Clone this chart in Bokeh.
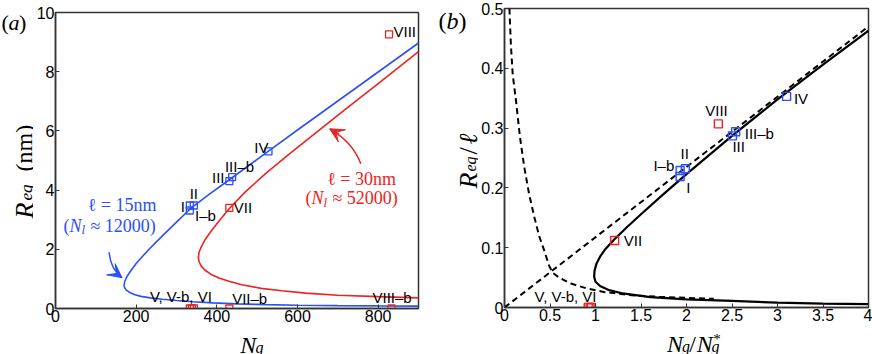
import numpy as np
from bokeh.plotting import figure
from bokeh.models import Range1d, FixedTicker, Label, Arrow, VeeHead
from bokeh.layouts import row, column
from bokeh.embed import file_html
from bokeh.resources import INLINE

BLUE = "#2b50f5"
RED = "#ee2222"
SERIF = "Liberation Serif"
SANS = "Liberation Sans"

# ---------------- panel (a) data ----------------
blue_ng = [900, 800, 700, 600, 520, 450, 390, 340, 300, 265, 235, 212, 195, 183, 175, 171, 170,
           172, 178, 188, 200, 215, 232, 250, 270, 300, 335, 380, 431, 480, 528, 600, 700, 800, 900]
blue_r = [0.08, 0.088, 0.098, 0.112, 0.13, 0.155, 0.19, 0.23, 0.27, 0.31, 0.36, 0.41, 0.47, 0.55, 0.63, 0.71, 0.79,
          0.93, 1.1, 1.3, 1.52, 1.75, 2.0, 2.25, 2.52, 2.92, 3.38, 3.85, 4.35, 4.84, 5.32, 6.03, 7.01, 7.99, 8.97]

red_ng = [900, 800, 700, 620, 561, 510, 462, 430, 405, 385, 370, 361, 356, 354,
          356, 362, 372, 386, 405, 431, 470, 520, 580, 650, 720, 800, 900]
red_r = [0.36, 0.40, 0.45, 0.52, 0.60, 0.68, 0.80, 0.92, 1.03, 1.16, 1.30, 1.44, 1.58, 1.72,
         1.9, 2.1, 2.35, 2.62, 2.95, 3.38, 3.93, 4.55, 5.22, 5.98, 6.74, 7.6, 8.68]

a_blue_ng = [333, 333, 343, 431, 438, 528]
a_blue_r = [3.31, 3.48, 3.48, 4.30, 4.44, 5.31]
a_red_ng = [431, 827, 333, 338, 343, 431, 833]
a_red_r = [3.40, 9.26, 0, 0, 0, 0, 0]

a_xticks = [0, 200, 400, 600, 800]
a_yticks = [0, 2, 4, 6, 8, 10]

# labels of the states in (a): text, x, y, align
a_labels = [("VIII", 838, 9.37, "left"), ("IV", 528, 5.45, "right"), ("III–b", 420, 4.79, "left"),
            ("III", 419, 4.41, "right"), ("II", 343, 3.89, "center"), ("I", 321, 3.45, "right"),
            ("I–b", 346, 3.14, "left"), ("VII", 442, 3.40, "left"), ("V, V-b, VI", 234, 0.41, "left"),
            ("VII–b", 438, 0.34, "left"), ("VIII–b", 786, 0.38, "left")]

# ---------------- panel (b) data ----------------
b_ng = [4.0, 3.5, 3.0, 2.5, 2.0, 1.6, 1.3, 1.15, 1.05, 1.0, 0.985,
        0.99, 1.01, 1.05, 1.1, 1.2, 1.35, 1.5, 1.75, 2.0, 2.5, 3.0, 3.5, 4.0]
b_r = [0.0055, 0.0065, 0.008, 0.011, 0.0135, 0.0172, 0.0235, 0.029, 0.036, 0.043, 0.052,
       0.062, 0.073, 0.085, 0.096, 0.113, 0.135, 0.156, 0.19, 0.223, 0.287, 0.348, 0.406, 0.463]

hyp_ng = [0.054, 0.07, 0.09, 0.127, 0.17, 0.218, 0.27, 0.328, 0.38, 0.437, 0.49, 0.53, 0.6, 0.73, 0.9, 1.09, 1.4, 1.7, 2.0, 2.3]
hyp_r = [0.5, 0.44, 0.39, 0.345, 0.285, 0.234, 0.19, 0.151, 0.12, 0.095, 0.07, 0.058, 0.05, 0.04, 0.032, 0.026, 0.0205, 0.018, 0.016, 0.0145]

lin_ng = [0, 4]
lin_r = [0, 0.47]

b_blue_ng = [1.93, 1.93, 1.987, 2.505, 2.54, 3.10]
b_blue_r = [0.219, 0.229, 0.232, 0.287, 0.294, 0.353]
b_red_ng = [1.21, 2.35, 0.92, 0.94, 0.955]
b_red_r = [0.112, 0.307, 0, 0, 0]

b_xticks = [0, 0.5, 1, 1.5, 2, 2.5, 3, 3.5, 4]
b_xlabels = ["0", "0.5", "1", "1.5", "2", "2.5", "3", "3.5", "4"]
b_yticks = [0, 0.1, 0.2, 0.3, 0.4, 0.5]
b_ylabels = ["0", "0.1", "0.2", "0.3", "0.4", "0.5"]

b_labels = [("IV", 3.18, 0.349, "left"), ("VIII", 2.33, 0.33, "center"), ("III–b", 2.64, 0.291, "left"),
            ("III", 2.505, 0.269, "left"), ("II", 1.98, 0.258, "center"), ("I–b", 1.866, 0.238, "right"),
            ("I", 1.998, 0.201, "left"), ("VII", 1.31, 0.112, "left"), ("V, V-b, VI", 0.33, 0.018, "left")]

HT = 354


def make_fig(width, height, left, right, top, bottom, xr, yr):
    p = figure(width=width, height=height, output_backend="svg", toolbar_location=None,
               x_range=Range1d(*xr), y_range=Range1d(*yr),
               min_border_left=left, min_border_right=right, min_border_top=top, min_border_bottom=bottom)
    p.grid.visible = False
    p.background_fill_color = "white"
    p.border_fill_color = "white"
    p.outline_line_color = "#333333"
    p.outline_line_width = 1.5
    for ax in (p.xaxis[0], p.yaxis[0]):
        ax.axis_line_color = "#333333"
        ax.axis_line_width = 1.5
        ax.major_tick_in = 4
        ax.major_tick_out = 0
        ax.minor_tick_line_color = None
        ax.major_tick_line_color = "#333333"
        ax.major_label_text_font = SANS
        ax.major_label_text_font_size = "16px"
        ax.major_label_text_color = "black"
        ax.major_label_standoff = 1
    return p


def strip(width, height):
    s = figure(width=width, height=height, output_backend="svg", toolbar_location=None,
               x_range=Range1d(0, width), y_range=Range1d(height, 0),
               x_axis_type=None, y_axis_type=None, min_border=0)
    s.grid.visible = False
    s.outline_line_color = None
    s.background_fill_color = "white"
    s.border_fill_color = "white"
    return s


def lab(p, x, y, s, size, color="black", font=SANS, style="normal", align="left",
        baseline="middle", angle=0.0, xo=0):
    p.add_layout(Label(x=x, y=y, text=s, text_font=font, text_font_size=f"{size}px",
                       text_font_style=style, text_color=color, text_align=align,
                       text_baseline=baseline, angle=angle, x_offset=xo))


def compose(p, x, y, pieces, color, dpy):
    total = sum(w for _, _, _, _, w in pieces)
    xo = -total / 2
    for s, style, size, dy, w in pieces:
        lab(p, x, y - dy * dpy, s, size, color=color, font=SERIF, style=style, xo=xo)
        xo += w


# ---------------- figure (a) ----------------
PA_H = 328
pa = make_fig(403, PA_H, 19, 18, 12, PA_H - 308, (0, 900), (0, 10))
pa.xaxis.ticker = FixedTicker(ticks=a_xticks)
pa.yaxis.ticker = FixedTicker(ticks=a_yticks)

pa.line(blue_ng, blue_r, line_color=BLUE, line_width=1.6)
pa.line(red_ng, red_r, line_color=RED, line_width=1.6)
pa.scatter(a_blue_ng, a_blue_r, marker="square", size=7, fill_color=None, line_color=BLUE, line_width=1.3)
pa.scatter(a_red_ng, a_red_r, marker="square", size=7, fill_color=None, line_color=RED, line_width=1.3)
for t, x, y, al in a_labels:
    lab(pa, x, y, t, 15, align=al)

dpa = 10 / 296
lab(pa, 165, 3.48, "ℓ = 15nm", 18, color=BLUE, font=SERIF, align="center")
compose(pa, 135, 2.80, [("(", "normal", 18, 0, 6), ("N", "italic", 18, 0, 12), ("l", "italic", 13, 4, 9),
                        ("≈ 12000)", "normal", 18, 0, 66)], BLUE, dpa)
lab(pa, 759, 4.36, "ℓ = 30nm", 18, color=RED, font=SERIF, align="center")
compose(pa, 735, 3.73, [("(", "normal", 18, 0, 6), ("N", "italic", 18, 0, 12), ("l", "italic", 13, 4, 9),
                        ("≈ 52000)", "normal", 18, 0, 66)], RED, dpa)

arr_blue = dict(x0=133, y0=1.90, cx=136, cy=1.34, x1=165, y1=1.04)
arr_red = dict(x0=757, y0=4.89, cx=737, cy=5.62, x1=680, y1=6.07)
for a, c in ((arr_blue, BLUE), (arr_red, RED)):
    pa.quadratic(x0=[a["x0"]], y0=[a["y0"]], x1=[a["x1"]], y1=[a["y1"]], cx=[a["cx"]], cy=[a["cy"]],
                 line_color=c, line_width=1.5)
    sx = a["cx"] + 0.6 * (a["x1"] - a["cx"])
    sy = a["cy"] + 0.6 * (a["y1"] - a["cy"])
    pa.add_layout(Arrow(x_start=sx, y_start=sy, x_end=a["x1"], y_end=a["y1"], line_color=c, line_width=1.5,
                        end=VeeHead(size=14, fill_color=c, line_color=c)))

# ---------------- figure (b) ----------------
PB_H = 327
pb = make_fig(394, PB_H, 25, 4, 8, PB_H - 307, (0, 4), (0, 0.5))
pb.xaxis.ticker = FixedTicker(ticks=b_xticks)
pb.yaxis.ticker = FixedTicker(ticks=b_yticks)
pb.xaxis.major_label_overrides = {t: s for t, s in zip(b_xticks, b_xlabels)}
pb.yaxis.major_label_overrides = {t: s for t, s in zip(b_yticks, b_ylabels)}

pb.line(lin_ng, lin_r, line_color="black", line_width=2, line_dash="6 4")
pb.line(hyp_ng, hyp_r, line_color="black", line_width=2, line_dash="6 4")
pb.line(b_ng, b_r, line_color="black", line_width=2.2)
pb.scatter(b_blue_ng, b_blue_r, marker="square", size=8, fill_color=None, line_color=BLUE, line_width=1.4)
pb.scatter(b_red_ng, b_red_r, marker="square", size=8, fill_color=None, line_color=RED, line_width=1.4)
for t, x, y, al in b_labels:
    lab(pb, x, y, t, 15, align=al)

# ---------------- title strips (pixel coordinates from their top-left) ----------------
ang = np.pi / 2
ya = strip(33, HT)      # left of (a)
lab(ya, 1, 22, "(", 22, font=SERIF, baseline="alphabetic")
lab(ya, 8, 22, "a", 22, font=SERIF, style="italic", baseline="alphabetic")
lab(ya, 18.5, 22, ")", 22, font=SERIF, baseline="alphabetic")
lab(ya, 24, 218, "R", 26, font=SERIF, style="italic", baseline="alphabetic", angle=ang)
lab(ya, 26, 200, "eq", 17, font=SERIF, style="italic", baseline="alphabetic", angle=ang)
lab(ya, 23, 171, "(nm)", 24, font=SERIF, baseline="alphabetic", angle=ang)

xa = strip(403, HT - PA_H)   # under (a), page x = 33 + x
lab(xa, 205, 16, "N", 24, font=SERIF, style="italic", baseline="alphabetic")
lab(xa, 222, 19, "g", 16, font=SERIF, style="italic", baseline="alphabetic")

yb = strip(42, HT)      # between (a) and (b), page x = 436 + x
lab(yb, 2, 20, "(", 24, font=SERIF, baseline="alphabetic")
lab(yb, 10, 20, "b", 24, font=SERIF, style="italic", baseline="alphabetic")
lab(yb, 22, 20, ")", 24, font=SERIF, baseline="alphabetic")
lab(yb, 32, 188, "R", 26, font=SERIF, style="italic", baseline="alphabetic", angle=ang)
lab(yb, 34, 171, "eq", 16, font=SERIF, style="italic", baseline="alphabetic", angle=ang)
lab(yb, 32, 154, "/", 26, font=SERIF, baseline="alphabetic", angle=ang)
lab(yb, 32, 144, "ℓ", 26, font=SERIF, style="italic", baseline="alphabetic", angle=ang)

xb = strip(394, HT - PB_H)   # under (b), page x = 478 + x
lab(xb, 176, 16, "N", 24, font=SERIF, style="italic", baseline="alphabetic")
lab(xb, 192, 19, "g", 16, font=SERIF, style="italic", baseline="alphabetic")
lab(xb, 200, 16, "/", 24, font=SERIF, baseline="alphabetic")
lab(xb, 208, 16, "N", 24, font=SERIF, style="italic", baseline="alphabetic")
lab(xb, 224, 19, "g", 16, font=SERIF, style="italic", baseline="alphabetic")
lab(xb, 226, 11, "*", 15, font=SERIF, baseline="alphabetic")

layout = row(ya, column(pa, xa), yb, column(pb, xb))
open("out.html", "w").write(file_html(layout, INLINE))
